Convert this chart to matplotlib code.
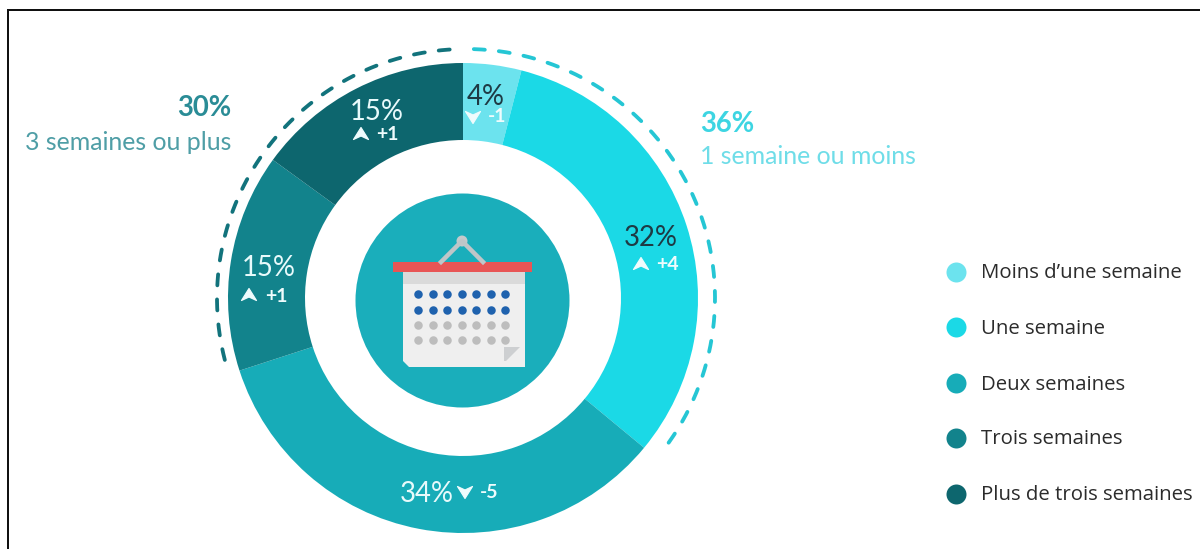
import matplotlib
matplotlib.use("Agg")
import matplotlib.pyplot as plt
from matplotlib.patches import Circle, Polygon, Rectangle
import numpy as np


# Data
categories = ["Moins d\u2019une semaine", "Une semaine", "Deux semaines",
              "Trois semaines", "Plus de trois semaines"]
shares = [4, 32, 34, 15, 15]
changes = [-1, 4, -5, 1, 1]
group_shares = [36, 30]
group_labels = ["1 semaine ou moins", "3 semaines ou plus"]

# Styles
colors = ["#6CE3EE", "#1BD9E6", "#17ACB8", "#12838C", "#0D666E"]
pct_colors = ["#1E3A44", "#1E3A44", "#E8FAFB", "#E8FAFB", "#E8FAFB"]
delta_color = "#EFFCFD"
px = 0.72  # one pixel in points at dpi 100

cx, cy = 463, 298
radius, hole = 235, 158

fig = plt.figure(figsize=(12, 5.49), dpi=100)
ax = fig.add_axes([0, 0, 1, 1])

# Ring, clockwise from the top (the y axis is flipped to use pixel coordinates)
ax.pie(shares, colors=colors, center=(cx, cy), radius=radius, startangle=-90,
       counterclock=True, wedgeprops={"width": radius - hole, "linewidth": 0})
ax.set_xlim(0, 1200)
ax.set_ylim(549, 0)
ax.set_aspect("equal")
ax.axis("off")

# Frame of the screenshot
ax.plot([8, 8, 1200], [549, 10, 10], color="#111111", lw=2 * px,
        solid_joinstyle="miter")


def dashed_arc(start, end, color):
    theta = np.radians(np.linspace(start, end, 200) * 3.6 - 90)
    ax.plot(466 + 249 * np.cos(theta), cy + 249 * np.sin(theta), color=color,
            lw=3.8 * px, linestyle=(0, (2.9, 3.7)), dash_capstyle="round")


dashed_arc(0.5, group_shares[0] - 1, "#25C6D4")
dashed_arc(100 - group_shares[1] + 1, 99, "#12737C")


def chevron(x, y, up, color):
    s = -1 if up else 1
    pts = [(x, y + s * 6.5), (x + 7.5, y - s * 5.5), (x, y - s * 2), (x - 7.5, y - s * 5.5)]
    ax.add_patch(Polygon(pts, closed=True, facecolor=color, edgecolor=color,
                         lw=1.2 * px, joinstyle="round"))


# Labels on the ring: percent position, chevron position, delta position
pct_pos = [(486, 97), (651, 238), (427, 494), (269, 268), (377, 112)]
chev_pos = [(473, 117), (641, 264), (465, 492), (249, 295), (361, 134)]
delta_pos = [(497, 117), (667, 265), (489, 493), (276, 296), (387, 135)]

for i in range(len(shares)):
    ax.text(*pct_pos[i], f"{shares[i]}%", color=pct_colors[i], fontsize=19.8,
            family="Lato", ha="center", va="center")
    chevron(*chev_pos[i], changes[i] > 0, delta_color)
    ax.text(*delta_pos[i], f"{changes[i]:+d}", color=delta_color, fontsize=14,
            family="Lato", weight="bold", ha="center", va="center")

# Group labels
ax.text(700, 124, f"{group_shares[0]}%", color="#3DD5E2", fontsize=19.8, family="Lato",
        weight="bold", ha="left", va="center")
ax.text(700, 157, group_labels[0], color="#6FDDE8", fontsize=17.9, family="Lato",
        ha="left", va="center")
ax.text(231, 108, f"{group_shares[1]}%", color="#2A8C96", fontsize=19.8, family="Lato",
        weight="bold", ha="right", va="center")
ax.text(231, 142, group_labels[1], color="#4F9EA6", fontsize=17.9, family="Lato",
        ha="right", va="center")

# Centre calendar icon
ax.add_patch(Circle((462.5, 300.5), 107, facecolor="#1AAEBB", edgecolor="none"))
ax.plot([441, 462, 483], [262, 241, 262], color="#BFC6C8", lw=4.5 * px)
ax.add_patch(Circle((462, 241), 5.5, facecolor="#C4CACC", edgecolor="none"))
ax.add_patch(Polygon([(403, 272), (525, 272), (525, 367), (409, 367), (403, 361)],
                     closed=True, facecolor="#EFEFEF", edgecolor="none"))
ax.add_patch(Rectangle((403, 272), 122, 12, facecolor="#DADADA", edgecolor="none"))
ax.add_patch(Rectangle((393, 262), 139, 10, facecolor="#E85555", edgecolor="none"))
ax.add_patch(Polygon([(504, 347), (520, 347), (506, 361), (504, 361)], closed=True,
                     facecolor="#CDCFD1", edgecolor="none"))
dot_x = np.linspace(418, 505, 7)
for row_y, dot_color in zip([294, 310, 325, 340],
                            ["#1F62AE", "#1F62AE", "#BDBDBD", "#BDBDBD"]):
    ax.scatter(dot_x, [row_y] * 7, s=(8.5 * px) ** 2, color=dot_color, linewidths=0,
               zorder=3)

# Legend
legend_y = [272, 327, 383, 438, 494]
for y, name, color in zip(legend_y, categories, colors):
    ax.scatter([956], [y], s=(20 * px) ** 2, color=color, linewidths=0, clip_on=False)
    ax.text(981, y + 1.5, name, color="#2B2B2B", fontsize=14.7, family="Open Sans",
            ha="left", va="center")

fig.savefig("out.png", dpi=100, facecolor="white")
